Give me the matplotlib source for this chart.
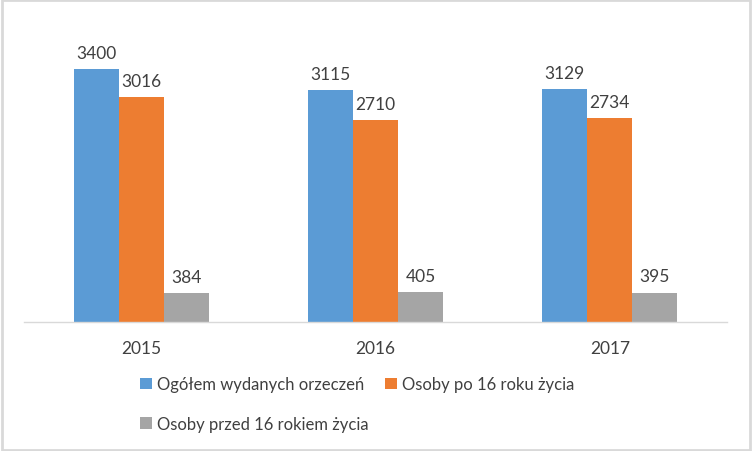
import numpy as np
import matplotlib.pyplot as plt
from matplotlib.patches import Rectangle

years = ["2015", "2016", "2017"]
series_names = ["Ogółem wydanych orzeczeń", "Osoby po 16 roku życia", "Osoby przed 16 rokiem życia"]
ogolem = [3400, 3115, 3129]
po16 = [3016, 2710, 2734]
przed16 = [384, 405, 395]
colors = ["#5B9BD5", "#ED7D31", "#A5A5A5"]

plt.rcParams['font.family'] = ['Lato', 'DejaVu Sans']
text_color = "#404040"

fig = plt.figure(figsize=(7.52, 4.52), dpi=100)
# plot area in pixels: x 24..727, y 25..323 (from top)
ax = fig.add_axes([24 / 752, (452 - 323) / 452, 703 / 752, 298 / 452])

x = np.arange(len(years))
w = 0.192
handles = []
for i, (vals, name) in enumerate(zip([ogolem, po16, przed16], series_names)):
    pos = x + (i - 1) * w
    bars = ax.bar(pos, vals, width=w, color=colors[i], label=name, zorder=2)
    handles.append(bars)
    for p, v in zip(pos, vals):
        ax.text(p, v + 110, str(v), ha="center", va="bottom", fontsize=12.5, color=text_color)

ax.set_xlim(-0.5, 2.5)
ax.set_ylim(0, 4000)
ax.set_yticks([])
ax.set_xticks(x)
ax.set_xticklabels(years, fontsize=12.5, color=text_color)
ax.tick_params(axis="x", length=0, pad=13)
for s in ["top", "right", "left"]:
    ax.spines[s].set_visible(False)
ax.spines["bottom"].set_color("#d9d9d9")
ax.spines["bottom"].set_linewidth(1)

# Excel-style legend: two entries on the first row, one on the second
order = [0, 2, 1]
fig.legend([handles[k] for k in order], [series_names[k] for k in order],
           ncol=2, loc="center", bbox_to_anchor=(357 / 752, 1 - 405 / 452),
           frameon=False, fontsize=12, labelcolor=text_color,
           handlelength=0.7, handleheight=0.7, handletextpad=0.3,
           columnspacing=1.0, labelspacing=1.4)

fig.patches.append(Rectangle((0.002, 0.003), 0.995, 0.994, transform=fig.transFigure,
                             fill=False, edgecolor="#d9d9d9", linewidth=2))

fig.savefig("out.png", dpi=100)
